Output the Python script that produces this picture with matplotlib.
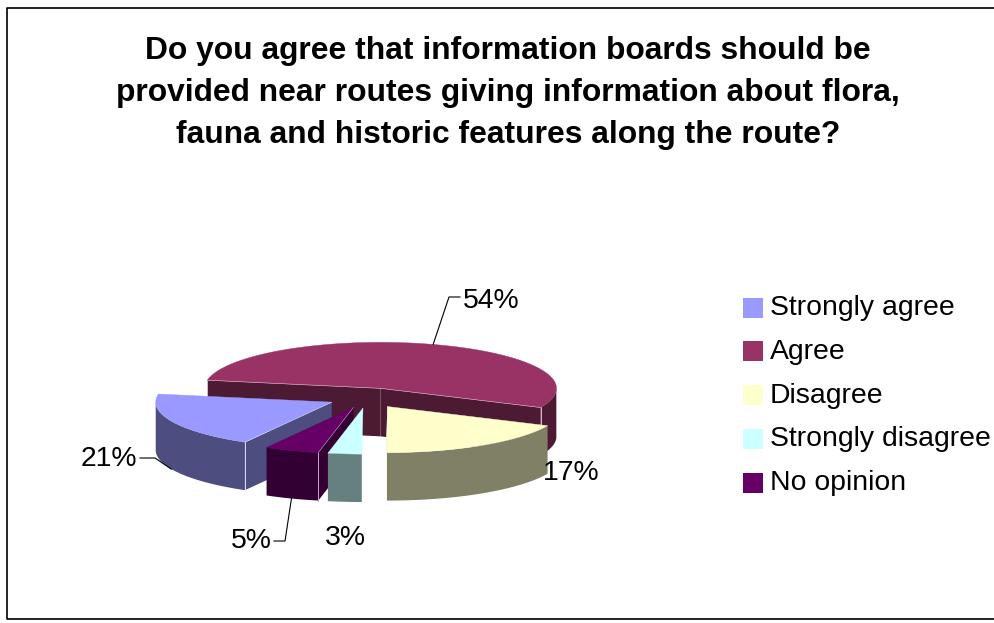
import numpy as np
import matplotlib
matplotlib.use("Agg")
import matplotlib.pyplot as plt
from matplotlib.colors import to_rgb
from matplotlib.patches import Polygon, Rectangle

plt.rcParams['font.family'] = ['Liberation Sans', 'DejaVu Sans']

TITLE = ("Do you agree that information boards should be\n"
         "provided near routes giving information about flora,\n"
         "fauna and historic features along the route?")
CATEGORIES = ['Strongly agree', 'Agree', 'Disagree', 'Strongly disagree', 'No opinion']
VALUES = [21, 54, 17, 3, 5]
TOP_COLORS = ['#9999FF', '#993366', '#FFFFCC', '#CCFFFF', '#660066']
SIDE_COLORS = ['#4D4D80', '#4D1A33', '#808066', '#668080', '#330033']

# pie geometry in pixels of the picture
CX, CY = 367, 398
RX, RY = 176, 46
DEPTH = 48
EXPLODE = 0.22
SHEAR = 0.2  # slices further back sit a little to the right
START = -114.6  # where 'Strongly agree' begins, clockwise
FRONT_SKEW = 5.0  # excel's perspective drags the front half a bit to the left
FRONT_LEFT, FRONT_SPAN = -190.2, 165.6

# label: text x, text y, elbow and end of the leader line (None = no leader)
LABELS = [(81, 459, (155, 458), (140, 458)),
          (463, 301, (449, 297), (460, 297)),
          (543, 473, None, None),
          (325, 538, None, None),
          (231, 541, (285, 541), (274, 541))]


def screen_angle(theta):
    """angle on the pie -> angle as it is drawn (degrees)"""
    theta = np.asarray(theta, dtype=float)
    t = (theta - FRONT_LEFT) % 360
    bend = np.where(t < FRONT_SPAN, FRONT_SKEW * np.sin(np.radians(t / FRONT_SPAN * 180)), 0)
    return theta - bend


def ell(theta):
    a = np.radians(screen_angle(theta))
    return RX * np.cos(a), -RY * np.sin(a)


def draw_slice(ax, start, span, top, side, z):
    end = start - span
    mid = (start + end) / 2
    mx, my = ell(mid)
    ax_y = CY + EXPLODE * my
    ax_x = CX + EXPLODE * mx + SHEAR * max(CY - ax_y, 0)

    th = np.linspace(start, end, 80)
    ex, ey = ell(th)
    ex, ey = ex + ax_x, ey + ax_y
    pale = 0.35 * np.array(to_rgb(top)) + 0.65

    # cut faces, first the one at the start and then the one at the end
    for edge, normal in ((0, start + 90), (-1, end - 90)):
        if np.sin(np.radians(normal)) < -0.01:
            ax.add_patch(Polygon([(ax_x, ax_y), (ex[edge], ey[edge]),
                                  (ex[edge], ey[edge] + DEPTH), (ax_x, ax_y + DEPTH)],
                                 fc=side, ec='none', zorder=z))
            ax.plot([ex[edge], ex[edge]], [ey[edge], ey[edge] + DEPTH], color=pale, lw=0.7, zorder=z + 0.3)
            ax.plot([ax_x, ex[edge]], [ax_y, ey[edge]], color=pale, lw=0.4, zorder=z + 0.5)

    # outer wall only where the rim faces the front
    front = np.sin(np.radians(screen_angle(th))) <= 0
    if front.any():
        fx, fy = ex[front], ey[front]
        pts = np.column_stack([np.r_[fx, fx[::-1]], np.r_[fy, fy[::-1] + DEPTH]])
        ax.add_patch(Polygon(pts, fc=side, ec='none', zorder=z + 0.2))

    ax.add_patch(Polygon(np.column_stack([np.r_[ax_x, ex], np.r_[ax_y, ey]]),
                         fc=top, ec=top, lw=0.3, zorder=z + 0.4))

    # where the leader line of the data label starts
    lx, ly = ax_x + mx, ax_y + my
    if np.sin(np.radians(mid)) < 0:
        ly += DEPTH
    return lx, ly


fig = plt.figure(figsize=(9.94, 6.23), dpi=100)
ax = fig.add_axes([0, 0, 1, 1])
ax.set_xlim(0, 994)
ax.set_ylim(623, 0)
ax.axis('off')

# chart frame, runs off the right of the picture
ax.plot([994, 7, 7, 994], [8, 8, 619, 619], color='black', lw=1.2, zorder=1)

ax.text(508, 93, TITLE, ha='center', va='center', fontsize=22.9, fontweight='bold',
        linespacing=1.51, color='black')

# slices clockwise from the start angle
spans = np.array(VALUES) / sum(VALUES) * 360
starts = START - np.r_[0, np.cumsum(spans)[:-1]]
draw_order = [1, 2, 0, 4, 3]
anchors = {}
for z, i in enumerate(draw_order):
    anchors[i] = draw_slice(ax, starts[i], spans[i], TOP_COLORS[i], SIDE_COLORS[i], 5 + z)

# data labels and their leader lines
for i, (tx, ty, elbow, tail) in enumerate(LABELS):
    ax.text(tx, ty, f"{VALUES[i]}%", ha='left', va='center', fontsize=20.4, color='black', zorder=20)
    if elbow is not None:
        lx, ly = anchors[i]
        ax.plot([lx, elbow[0], tail[0]], [ly, elbow[1], tail[1]], color='black', lw=0.8, zorder=20)

# legend
for i, name in enumerate(CATEGORIES):
    y = 307 + i * 43.8
    ax.add_patch(Rectangle((743, y - 9.5), 20, 20, fc=TOP_COLORS[i], ec='none'))
    ax.text(770, y + 1, name, ha='left', va='center', fontsize=20.4, color='black')

fig.savefig('out.png', dpi=100)
